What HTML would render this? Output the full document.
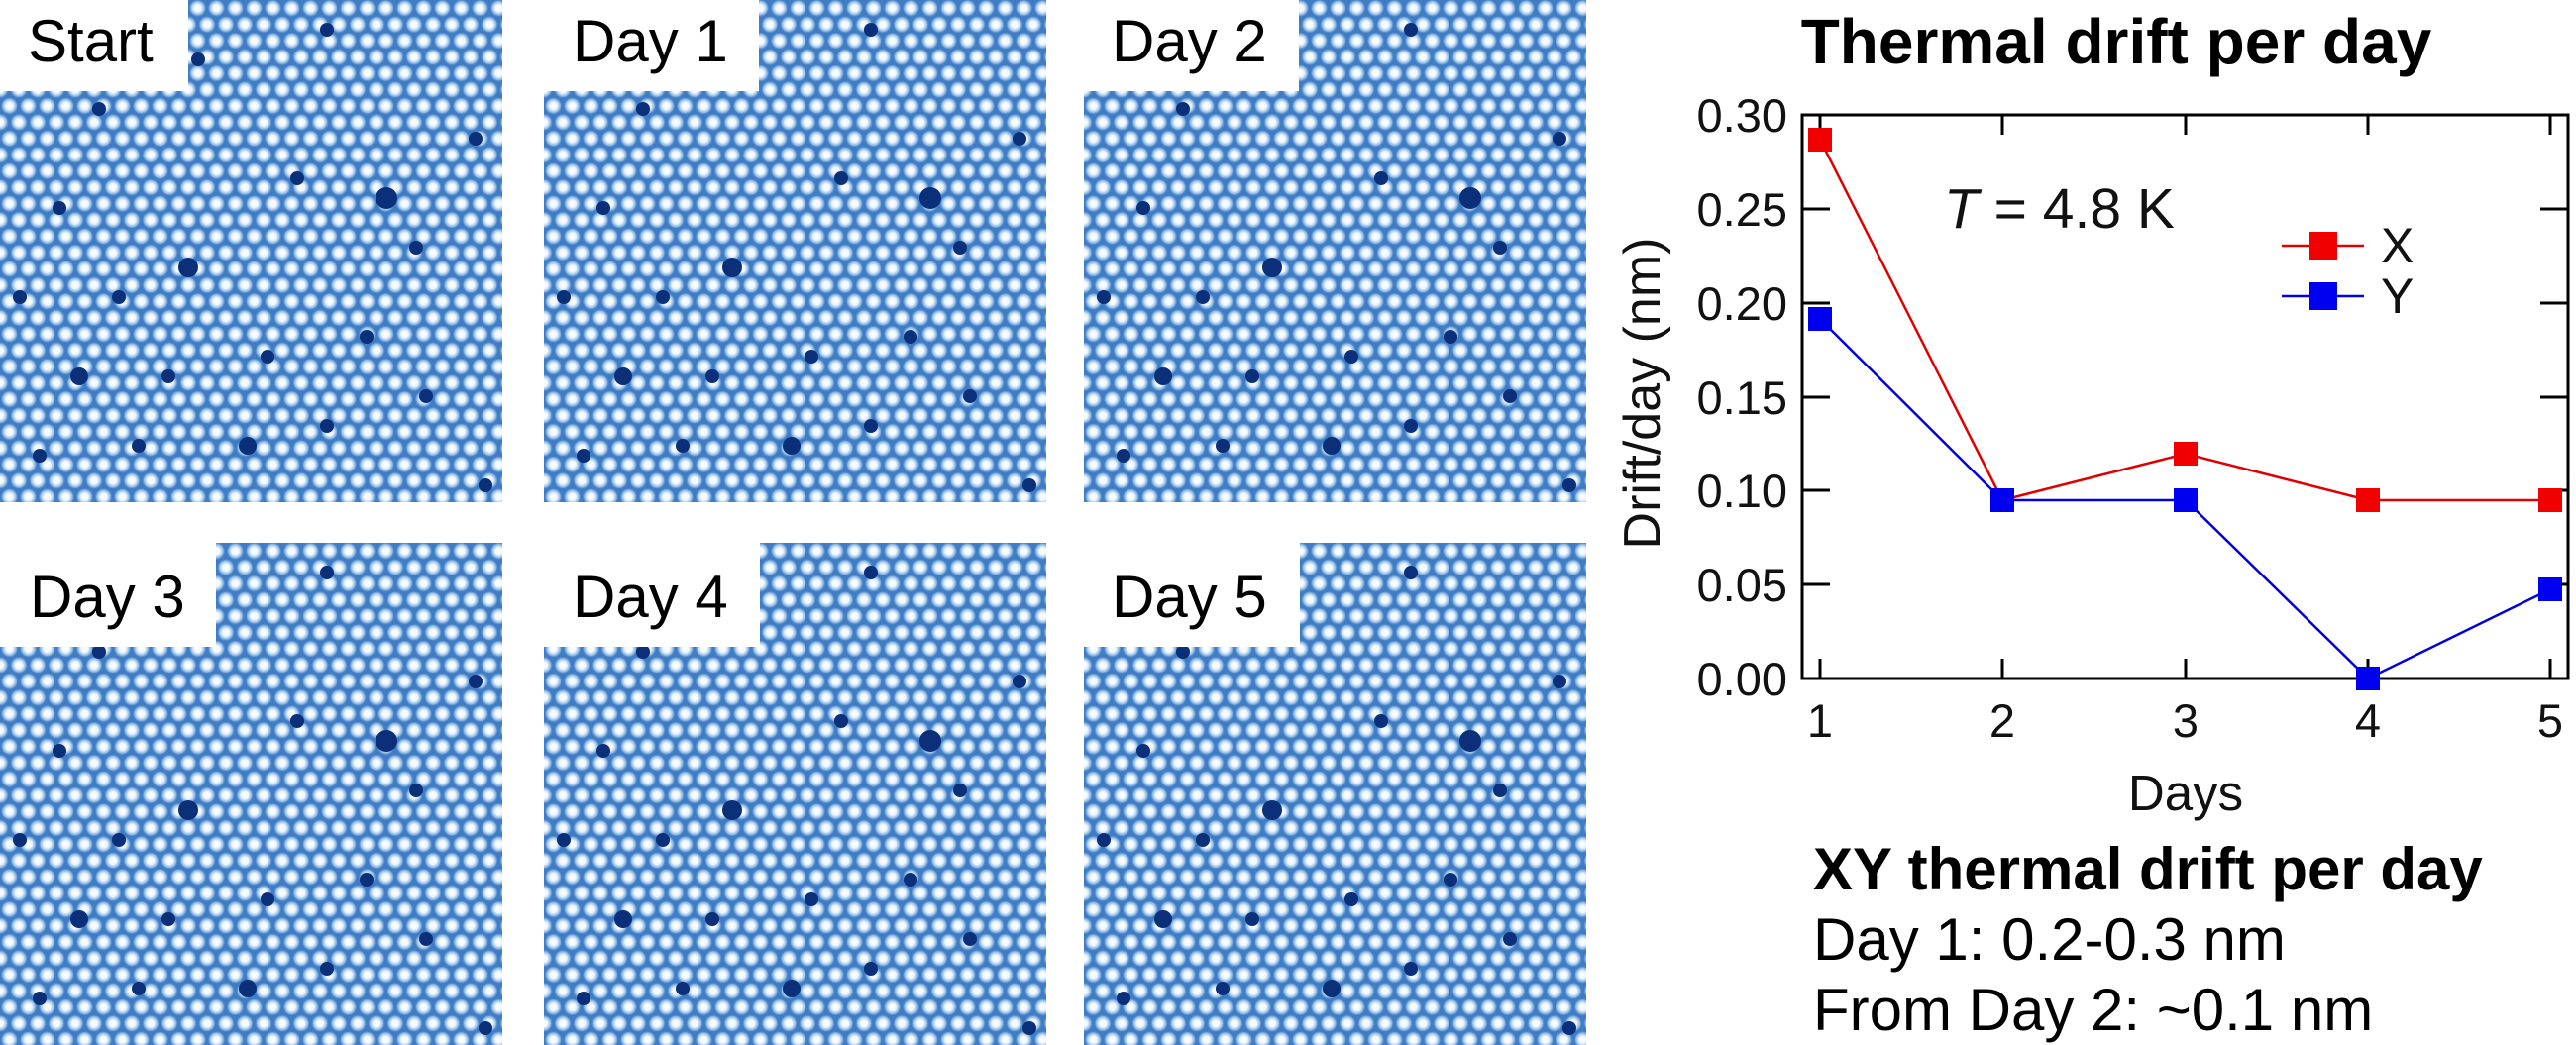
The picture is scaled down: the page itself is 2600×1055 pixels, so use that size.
<!DOCTYPE html>
<html><head><meta charset="utf-8"><style>
html,body{margin:0;padding:0;background:#fff;}
body{width:2600px;height:1055px;overflow:hidden;position:relative;font-family:"Liberation Sans",sans-serif;}
svg{position:absolute;left:0;top:0;}
</style></head><body>
<svg width="2600" height="1055" viewBox="0 0 2600 1055" xmlns="http://www.w3.org/2000/svg">
<defs>
<radialGradient id="dot">
<stop offset="0" stop-color="#ffffff"/>
<stop offset="0.4" stop-color="#eef6fc"/>
<stop offset="0.75" stop-color="#86b5e3"/>
<stop offset="1" stop-color="#3f7cc4" stop-opacity="0"/>
</radialGradient>
<pattern id="lat" width="19" height="32.9" patternUnits="userSpaceOnUse">
<rect width="19" height="32.9" fill="#3f7cc4"/>
<circle cx="9.5" cy="8.2" r="9.2" fill="url(#dot)"/>
<circle cx="0" cy="24.7" r="9.2" fill="url(#dot)"/>
<circle cx="19" cy="24.7" r="9.2" fill="url(#dot)"/>
</pattern>
<g id="spots" fill="#0b2f78">
<circle cx="100" cy="110" r="7"/><circle cx="200" cy="60" r="7"/><circle cx="330" cy="30" r="7"/>
<circle cx="60" cy="210" r="7"/><circle cx="190" cy="270" r="10"/><circle cx="300" cy="180" r="7"/>
<circle cx="390" cy="200" r="11"/><circle cx="420" cy="250" r="7"/><circle cx="20" cy="300" r="7"/>
<circle cx="120" cy="300" r="7"/><circle cx="170" cy="380" r="7"/><circle cx="80" cy="380" r="9"/>
<circle cx="270" cy="360" r="7"/><circle cx="330" cy="430" r="7"/><circle cx="430" cy="400" r="7"/>
<circle cx="40" cy="460" r="7"/><circle cx="140" cy="450" r="7"/><circle cx="250" cy="450" r="9"/>
<circle cx="480" cy="140" r="7"/><circle cx="490" cy="490" r="7"/><circle cx="370" cy="340" r="7"/>
</g>
<g id="panel">
<rect width="507" height="507" fill="url(#lat)"/>
<use href="#spots"/>
</g>
</defs>

<use href="#panel" x="0" y="0"/>
<use href="#panel" x="549" y="0"/>
<use href="#panel" x="1094" y="0"/>
<use href="#panel" x="0" y="548"/>
<use href="#panel" x="549" y="548"/>
<use href="#panel" x="1094" y="548"/>

<g font-size="60" fill="#000" font-family="Liberation Sans, sans-serif">
<rect x="0" y="0" width="190" height="92" fill="#fff"/>
<text x="28" y="62">Start</text>
<rect x="549" y="0" width="217" height="92" fill="#fff"/>
<text x="578" y="62">Day 1</text>
<rect x="1094" y="0" width="217" height="92" fill="#fff"/>
<text x="1122" y="62">Day 2</text>
<rect x="0" y="548" width="218" height="105" fill="#fff"/>
<text x="30" y="623">Day 3</text>
<rect x="549" y="548" width="218" height="105" fill="#fff"/>
<text x="578" y="623">Day 4</text>
<rect x="1094" y="548" width="218" height="105" fill="#fff"/>
<text x="1122" y="623">Day 5</text>
</g>

<text x="2136" y="64" font-size="64" font-weight="bold" text-anchor="middle">Thermal drift per day</text>
<rect x="1819" y="116" width="773" height="569" fill="none" stroke="#000" stroke-width="3"/>
<g stroke="#000" stroke-width="3">
<line x1="1819" y1="211" x2="1847" y2="211"/><line x1="1819" y1="306" x2="1847" y2="306"/>
<line x1="1819" y1="401" x2="1847" y2="401"/><line x1="1819" y1="495" x2="1847" y2="495"/>
<line x1="1819" y1="590" x2="1847" y2="590"/>
<line x1="2592" y1="211" x2="2564" y2="211"/><line x1="2592" y1="306" x2="2564" y2="306"/>
<line x1="2592" y1="401" x2="2564" y2="401"/><line x1="2592" y1="495" x2="2564" y2="495"/>
<line x1="2592" y1="590" x2="2564" y2="590"/>
<line x1="1837" y1="685" x2="1837" y2="665"/><line x1="2021" y1="685" x2="2021" y2="665"/>
<line x1="2206" y1="685" x2="2206" y2="665"/><line x1="2390" y1="685" x2="2390" y2="665"/>
<line x1="2574" y1="685" x2="2574" y2="665"/>
<line x1="1837" y1="116" x2="1837" y2="136"/><line x1="2021" y1="116" x2="2021" y2="136"/>
<line x1="2206" y1="116" x2="2206" y2="136"/><line x1="2390" y1="116" x2="2390" y2="136"/>
<line x1="2574" y1="116" x2="2574" y2="136"/>
</g>
<g font-size="47" text-anchor="end" fill="#111">
<text x="1804" y="133">0.30</text><text x="1804" y="228">0.25</text><text x="1804" y="323">0.20</text>
<text x="1804" y="418">0.15</text><text x="1804" y="512">0.10</text><text x="1804" y="607">0.05</text>
<text x="1804" y="702">0.00</text>
</g>
<g font-size="47" text-anchor="middle" fill="#111">
<text x="1837" y="744">1</text><text x="2021" y="744">2</text><text x="2206" y="744">3</text>
<text x="2390" y="744">4</text><text x="2574" y="744">5</text>
<text x="2206" y="818" font-size="51">Days</text>
</g>
<text transform="translate(1675,397) rotate(-90)" font-size="52" text-anchor="middle" fill="#111">Drift/day (nm)</text>
<text x="1962" y="230" font-size="57" fill="#111"><tspan font-style="italic">T</tspan> = 4.8 K</text>

<polyline points="1837,141 2021,505 2206,458 2390,505 2574,505" fill="none" stroke="#e00000" stroke-width="2.5"/>
<polyline points="1837,322 2021,505 2206,505 2390,685 2574,595" fill="none" stroke="#0000e0" stroke-width="2.5"/>
<g fill="#f00000">
<rect x="1825" y="129" width="24" height="24"/><rect x="2194" y="446" width="24" height="24"/>
<rect x="2378" y="493" width="24" height="24"/><rect x="2562" y="493" width="24" height="24"/>
</g>
<g fill="#0000f0">
<rect x="1825" y="310" width="24" height="24"/><rect x="2009" y="493" width="24" height="24"/>
<rect x="2194" y="493" width="24" height="24"/><rect x="2378" y="673" width="24" height="24"/>
<rect x="2562" y="583" width="24" height="24"/>
</g>
<line x1="2303" y1="248" x2="2386" y2="248" stroke="#e00000" stroke-width="2.5"/>
<rect x="2331" y="234" width="28" height="28" fill="#f00000"/>
<text x="2403" y="265" font-size="50" fill="#111">X</text>
<line x1="2303" y1="299" x2="2386" y2="299" stroke="#0000e0" stroke-width="2.5"/>
<rect x="2331" y="285" width="28" height="28" fill="#0000f0"/>
<text x="2403" y="316" font-size="50" fill="#111">Y</text>

<text x="1830" y="898" font-size="60" font-weight="bold">XY thermal drift per day</text>
<text x="1830" y="969" font-size="60">Day 1: 0.2-0.3 nm</text>
<text x="1830" y="1040" font-size="60">From Day 2: ~0.1 nm</text>
</svg>
</body></html>
